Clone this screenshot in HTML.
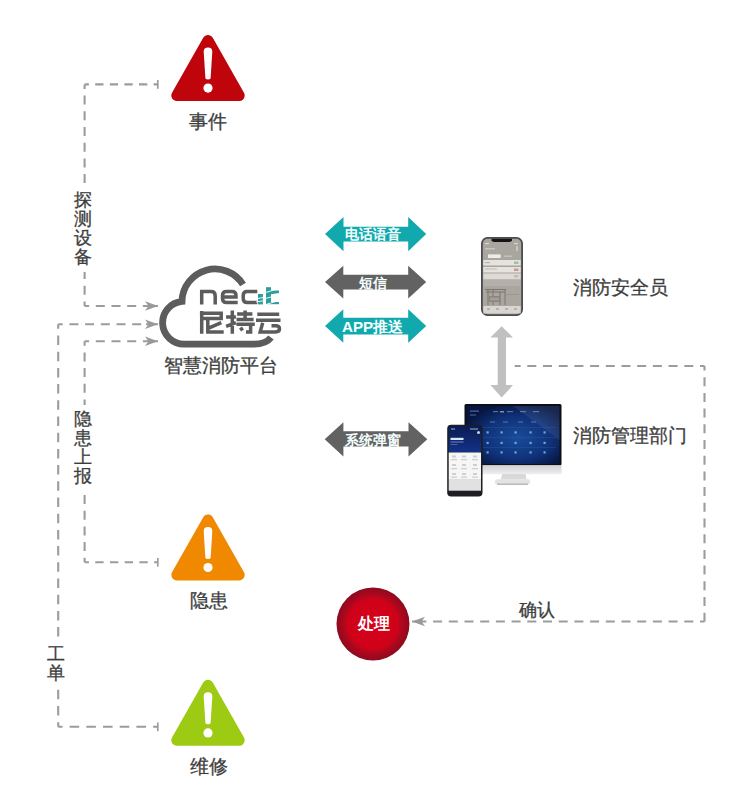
<!DOCTYPE html>
<html><head><meta charset="utf-8">
<style>
html,body{margin:0;padding:0;background:#fff;}
body{width:737px;height:795px;overflow:hidden;position:relative;font-family:"Liberation Sans",sans-serif;}
svg{position:absolute;left:0;top:0;}
.t{position:absolute;color:#3d3d3d;font-size:18.7px;line-height:19px;white-space:nowrap;font-weight:500;-webkit-text-stroke:0.3px #3d3d3d;}
.v{position:absolute;color:#3d3d3d;font-size:18px;line-height:18.9px;width:18px;text-align:center;white-space:normal;font-weight:500;-webkit-text-stroke:0.3px #3d3d3d;background:#fff;padding:5px 2px;margin:-5px -2px;}
.w{position:absolute;color:#f4ffff;font-size:14px;line-height:14px;white-space:nowrap;font-weight:bold;}
</style></head>
<body>
<svg width="737" height="795" viewBox="0 0 737 795">
  <!-- dashed connectors -->
  <defs>
    <marker id="ah" markerWidth="15" markerHeight="11" refX="13" refY="5" orient="auto" markerUnits="userSpaceOnUse">
      <path d="M0,0.2 L13,5 L0,9.8 L3.5,5 Z" fill="#999"/>
    </marker>
  </defs>
  <g fill="none" stroke="#9c9c9c" stroke-width="2.1" stroke-dasharray="9 6.7" stroke-dashoffset="4.5">
    <path d="M84.6,84.4 H157.8" stroke-dasharray="8.3 6.3" stroke-dashoffset="4"/>
    <path d="M84.6,84.4 V200"/>
    <path d="M84.6,306 V200"/>
    <path d="M84.6,306 H146"/>
    <path d="M58.2,324.2 H146"/>
    <path d="M58.2,324.2 V660" stroke-dasharray="9.5 6.7" stroke-dashoffset="4.9"/>
    <path d="M58.2,726.8 V660" stroke-dasharray="9.5 6.7" stroke-dashoffset="4.9"/>
    <path d="M58.2,726.8 H157.8" stroke-dasharray="9.6 7.1" stroke-dashoffset="5.3"/>
    <path d="M84.6,341.2 H146"/>
    <path d="M84.6,341.2 V450"/>
    <path d="M84.6,562.3 V450"/>
    <path d="M84.6,562.3 H157.8" stroke-dasharray="8.3 6.4" stroke-dashoffset="4"/>
    <path d="M704.5,366 H514.7"/>
    <path d="M704.5,366 V621.5"/>
    <path d="M704.5,621.5 H422"/>
  </g>
  <g stroke="#9c9c9c" stroke-width="2" fill="none">
    <path d="M146,306.0 H158" marker-end="url(#ah)"/>
    <path d="M146,324.2 H158" marker-end="url(#ah)"/>
    <path d="M146,341.2 H158" marker-end="url(#ah)"/>
    <path d="M422,621.5 H412" marker-end="url(#ah)"/>
  </g>
  <g stroke="#9c9c9c" stroke-width="1.7">
    <line x1="157.8" y1="80" x2="157.8" y2="88.8"/>
    <line x1="157.8" y1="558" x2="157.8" y2="566.6"/>
    <line x1="157.8" y1="722.5" x2="157.8" y2="731.1"/>
  </g>

  <!-- warning triangles -->
  <g transform="translate(208,40.5)">
    <path d="M0,0 L-31.2,55 L31.2,55 Z" fill="#bf050b" stroke="#bf050b" stroke-width="11" stroke-linejoin="round"/>
    <path d="M-4.3,11 Q-4.3,7 0,7 Q4.3,7 4.3,11 L2.6,38 Q0,40 -2.6,38 Z" fill="#fff"/>
    <circle cx="0" cy="47.6" r="4.6" fill="#fff"/>
  </g>
  <g transform="translate(208,519.9)">
    <path d="M0,0 L-31.2,55 L31.2,55 Z" fill="#f08800" stroke="#f08800" stroke-width="11" stroke-linejoin="round"/>
    <path d="M-4.3,11 Q-4.3,7 0,7 Q4.3,7 4.3,11 L2.6,38 Q0,40 -2.6,38 Z" fill="#fff"/>
    <circle cx="0" cy="47.6" r="4.6" fill="#fff"/>
  </g>
  <g transform="translate(208,685.3)">
    <path d="M0,0 L-31.2,55 L31.2,55 Z" fill="#9dcb14" stroke="#9dcb14" stroke-width="11" stroke-linejoin="round"/>
    <path d="M-4.3,11 Q-4.3,7 0,7 Q4.3,7 4.3,11 L2.6,38 Q0,40 -2.6,38 Z" fill="#fff"/>
    <circle cx="0" cy="47.6" r="4.6" fill="#fff"/>
  </g>
  <!-- cloud logo -->
  <g fill="none" stroke="#5c5c5c" stroke-width="6.8" stroke-linecap="butt">
    <path d="M243,284.5 A33,33 0 0 0 182.0,301.4 A21.4,21.4 0 0 0 184.5,344.1 H254 Q266,344.1 271,337.5"/>
  </g>

  <!-- double arrows -->
  <path d="M325,234 L343.5,217 V226.7 H408.2 V217 L426.2,234 L408.2,251.2 V241.4 H343.5 V251.2 Z" fill="#12a9ae"/>
  <path d="M325,282 L343.3,265.7 V274.7 H408.2 V265.7 L426.2,282 L408.2,298.6 V289.6 H343.3 V298.6 Z" fill="#626262"/>
  <path d="M325,326 L343.3,309.3 V317.7 H408.2 V309.3 L426.2,326 L408.2,342.8 V334.4 H343.3 V342.8 Z" fill="#12a9ae"/>
  <path d="M324.7,439.3 L343.4,422.2 V431.2 H408.5 V422.2 L427.3,439.3 L408.5,456.4 V446.6 H343.4 V456.4 Z" fill="#626262"/>

  <!-- vertical double arrow -->
  <path d="M501.7,326.2 L513,337.6 H506 V385.1 H513 L501.7,397.6 L490.4,385.1 H497.7 V337.6 H490.4 Z" fill="#c0c0c0"/>


  <!-- phone 1 -->
  <g>
    <rect x="481" y="237" width="42" height="79" rx="6.5" fill="#4c4c4c"/>
    <rect x="482.8" y="238.8" width="38.4" height="75.4" rx="5" fill="#a9a59f"/>
    <path d="M491.5,238.8 H512 V240.3 Q511.5,242 509.5,242 H494 Q492,242 491.5,240.3 Z" fill="#151515"/>
    <rect x="485" y="243" width="4" height="1.2" fill="#d8d5d0"/>
    <rect x="514" y="243" width="4" height="1.2" fill="#d8d5d0"/>
    <rect x="485" y="248" width="10" height="1.5" fill="#c8c4be"/>
    <rect x="516" y="246" width="2" height="5" fill="#c8c4be"/>
    <rect x="488" y="254.4" width="12.7" height="3.6" fill="#efece8"/>
    <rect x="504" y="255.5" width="8" height="1.5" fill="#c4c0ba"/>
    <rect x="483.3" y="260" width="37.4" height="5.5" fill="#e6e3df"/>
    <rect x="514" y="261.5" width="4.5" height="2.5" fill="#9cc3a4"/>
    <rect x="485" y="262" width="5" height="1.2" fill="#b8b4ae"/>
    <rect x="483.3" y="267" width="37.4" height="5.5" fill="#e6e3df"/>
    <rect x="514" y="268.5" width="4.5" height="2.5" fill="#c99aa2"/>
    <rect x="485" y="268.5" width="12" height="1" fill="#bdb9b3"/>
    <rect x="483.3" y="273.5" width="37.4" height="6" fill="#dedbd6"/>
    <rect x="514" y="275" width="4.5" height="2.5" fill="#c0bcb6"/>
    <rect x="483.3" y="279.5" width="37.4" height="26.5" fill="#b4b0a9"/>
    <rect x="483.3" y="286" width="37.4" height="20" fill="#aaa69f"/>
    <g stroke="#7b766f" stroke-width="1" fill="none">
      <path d="M485,289.5 H506 M486,292 H505 M488,289.5 V305 M493,289.5 V305 M500,292 V305 M505,289.5 V305"/>
    </g>
    <rect x="489" y="296" width="11" height="6" fill="#8a857d"/>
    <rect x="490" y="297.5" width="9" height="3" fill="#a39e96"/>
    <rect x="506" y="294" width="13" height="1" fill="#9c9790"/>
    <rect x="483.3" y="306" width="37.4" height="7.5" fill="#d9d6d2"/>
    <rect x="487" y="308" width="3" height="2" fill="#b6b2ac"/><rect x="496" y="308" width="3" height="2" fill="#b6b2ac"/><rect x="505" y="308" width="3" height="2" fill="#b6b2ac"/><rect x="514" y="308" width="3" height="2" fill="#b6b2ac"/>
  </g>
  <!-- monitor -->
  <defs>
    <radialGradient id="scr" cx="0.55" cy="0.55" r="0.6">
      <stop offset="0" stop-color="#1a4b98"/>
      <stop offset="0.6" stop-color="#10327a"/>
      <stop offset="1" stop-color="#071640"/>
    </radialGradient>
    <linearGradient id="chin" x1="0" y1="0" x2="0" y2="1">
      <stop offset="0" stop-color="#cfd0d2"/>
      <stop offset="1" stop-color="#eeeeef"/>
    </linearGradient>
    <linearGradient id="ph2" x1="0" y1="0" x2="0" y2="1">
      <stop offset="0" stop-color="#0a1b52"/>
      <stop offset="1" stop-color="#133287"/>
    </linearGradient>
  </defs>
  <g>
    <rect x="464.5" y="404" width="97" height="61.5" rx="1.5" fill="#0d0f16"/>
    <rect x="466.5" y="406" width="93" height="58" fill="url(#scr)"/>
    <path d="M513,406 H559.5 V440 Z" fill="#ffffff" opacity="0.08"/>
    <g fill="#7fd3f0" opacity="0.75">
      <rect x="486.5" y="431.3" width="2.2" height="2.2"/><rect x="500.5" y="431.3" width="2.2" height="2.2"/><rect x="514.5" y="431.3" width="2.2" height="2.2"/><rect x="529.5" y="431.3" width="2.2" height="2.2"/><rect x="543.5" y="431.3" width="2.2" height="2.2"/>
      <rect x="486.5" y="441.8" width="2.2" height="2.2"/><rect x="500.5" y="441.8" width="2.2" height="2.2"/><rect x="514.5" y="441.8" width="2.2" height="2.2"/><rect x="529.5" y="441.8" width="2.2" height="2.2"/><rect x="543.5" y="441.8" width="2.2" height="2.2"/>
      <rect x="486.5" y="451.3" width="2.2" height="2.2"/><rect x="500.5" y="451.3" width="2.2" height="2.2"/><rect x="514.5" y="451.3" width="2.2" height="2.2"/><rect x="529.5" y="451.3" width="2.2" height="2.2"/><rect x="543.5" y="451.3" width="2.2" height="2.2"/>
    </g>
    <g stroke="#2f64b0" stroke-width="0.5" opacity="0.6">
      <line x1="483" y1="427.5" x2="556" y2="427.5"/><line x1="483" y1="437.5" x2="556" y2="437.5"/><line x1="483" y1="447.5" x2="556" y2="447.5"/>
    </g>
    <g fill="#8fb0e0" opacity="0.55">
      <rect x="470" y="410.5" width="9" height="1.2"/><rect x="493" y="411" width="5" height="1.2"/><rect x="500" y="411" width="4" height="1.5" fill="#dfe8f8"/><rect x="507" y="411" width="6" height="1.2"/><rect x="520" y="411" width="6" height="1.2"/><rect x="533" y="411" width="6" height="1.2"/>
      <rect x="470" y="414.5" width="6" height="1"/>
      <rect x="490" y="421.5" width="5" height="1"/><rect x="503" y="421.5" width="5" height="1"/><rect x="518" y="421.5" width="5" height="1"/><rect x="531" y="421.5" width="5" height="1"/>
    </g>
    <rect x="464.5" y="465.2" width="97" height="9" fill="url(#chin)"/>
    <path d="M502,474 H525.5 L526.5,479.5 H501 Z" fill="#d9d9db"/>
    <rect x="495" y="479.3" width="35" height="5" rx="2" fill="#e3e3e5"/>
    <rect x="497" y="483.5" width="31" height="1.5" fill="#b9b9bb"/>
  </g>
  <!-- phone 2 -->
  <g>
    <rect x="447.2" y="424.7" width="35.3" height="71.7" rx="4" fill="#1d1d22"/>
    <rect x="448.7" y="426" width="32.3" height="26.5" rx="2.5" fill="url(#ph2)"/>
    <rect x="448.7" y="452.5" width="32.3" height="27.4" fill="#f6f6f6"/>
    <rect x="448.7" y="479.9" width="32.3" height="10.8" fill="#e1e1e1"/>
    <rect x="450.5" y="437.8" width="13" height="2.2" fill="#dfe5f3"/>
    <rect x="450.5" y="441.5" width="13" height="1" fill="#6f86bf"/><rect x="450.5" y="444" width="7" height="0.8" fill="#5b72b0"/><rect x="451" y="428.5" width="4" height="1" fill="#9fb0da"/><rect x="470" y="428.5" width="8" height="1" fill="#9fb0da"/>
    <circle cx="478.5" cy="432.5" r="1.5" fill="#c9d3ea"/>
    <g fill="#cfcfcf">
      <rect x="452" y="455.5" width="4" height="2"/><rect x="462" y="455.5" width="4" height="2"/><rect x="473" y="455.5" width="4" height="2"/>
      <rect x="451" y="459" width="6" height="1.3"/><rect x="461" y="459" width="6" height="1.3"/><rect x="472" y="459" width="6" height="1.3"/>
      <rect x="452" y="464" width="4" height="2"/><rect x="462" y="464" width="4" height="2"/><rect x="473" y="464" width="4" height="2"/>
      <rect x="451" y="468" width="6" height="1.3"/><rect x="461" y="468" width="6" height="1.3"/><rect x="472" y="468" width="6" height="1.3"/>
      <rect x="452" y="473" width="4" height="2"/><rect x="462" y="473" width="4" height="2"/><rect x="473" y="473" width="4" height="2"/>
      <rect x="451" y="476.5" width="6" height="1.3"/><rect x="461" y="476.5" width="6" height="1.3"/><rect x="472" y="476.5" width="6" height="1.3"/>
    </g>
  </g>

  <!-- logo text -->
  <g fill="none" stroke="#5c5c5c" stroke-width="3.5" stroke-linecap="butt" stroke-linejoin="miter">
    <path d="M201.7,304.4 V291.6 H211 Q215.2,291.6 215.2,295.8 V304.4"/>
    <path d="M237.7,302.6 H226.5 Q222.5,302.6 222.5,298.6 V295.6 Q222.5,291.6 226.5,291.6 H232 Q236,291.6 236,295.6 V297.1 H222.5"/>
    <path d="M257.3,291.6 H247.2 Q243.2,291.6 243.2,295.6 V298.6 Q243.2,302.6 247.2,302.6 H257.3"/>
    <path d="M201.7,311.1 V333.7 M199.9,313.2 H221.2 V318.5 H201.7 M221.3,322.7 L208.6,328.2 M207.8,320.3 V331.9 H223.7"/>
    <path d="M232.3,310.5 V333.7 M226.1,317 H235.9 M226.1,326.4 L235.9,322.7 M237.1,313.9 H252.4 M245.1,310.5 V319.4 M236.5,319.4 H253.6 M236.5,324.2 H254.8 M250.6,322.7 V331.9 H246 M240.5,327.5 L242.5,330.5"/>
    <path d="M257.3,314.2 H279.2 M256,320.3 H280.5 M262.7,322.8 L260.2,331.9 H275.5 Q279.5,331.9 279.5,328.8 Q279.5,325.7 275.5,325.7 H271.5"/>
  </g>
  <g fill="#2a9f9b">
    <rect x="258" y="294" width="4.9" height="10.4"/>
    <rect x="266" y="287.2" width="5" height="17"/>
    <path d="M271,290.6 L279,290.6 L279,293 L271,294.2 Z"/>
    <path d="M271,302 L279,302 L279,304.2 L271,304.2 Z"/>
  </g>
  <g stroke="#fff" stroke-width="0.9">
    <line x1="256" y1="299" x2="265" y2="297"/><line x1="256" y1="302" x2="265" y2="300.5"/>
    <line x1="264" y1="293" x2="281" y2="288"/><line x1="264" y1="299" x2="281" y2="294"/><line x1="264" y1="305" x2="281" y2="300"/>
  </g>

  <!-- processing circle -->
  <defs>
    <radialGradient id="cir" cx="0.5" cy="0.5" r="0.5">
      <stop offset="0" stop-color="#d6001a"/>
      <stop offset="0.68" stop-color="#cf0219"/>
      <stop offset="0.8" stop-color="#ae071d"/>
      <stop offset="1" stop-color="#8e0a1f"/>
    </radialGradient>
  </defs>
  <circle cx="373" cy="624" r="36.5" fill="url(#cir)"/>
</svg>

<div class="t" style="left:189px;top:112px;">事件</div>
<div class="v" style="left:74px;top:191px;">探测设备</div>
<div class="v" style="left:74px;top:410px;">隐患上报</div>
<div class="v" style="left:47px;top:645px;">工单</div>
<div class="t" style="left:190px;top:591px;">隐患</div>
<div class="t" style="left:190px;top:757px;">维修</div>
<div class="t" style="left:164px;top:356px;">智慧消防平台</div>
<div class="t" style="left:573px;top:278px;">消防安全员</div>
<div class="t" style="left:573px;top:426px;">消防管理部门</div>
<div class="t" style="left:519px;top:600.5px;font-size:18px;">确认</div>
<div class="w" style="left:345px;top:227px;">电话语音</div>
<div class="w" style="left:359px;top:276px;">短信</div>
<div class="w" style="left:342px;top:318.5px;font-size:15.2px;line-height:15px;">APP推送</div>
<div class="w" style="left:345px;top:433px;">系统弹窗</div>
<div class="w" style="left:358px;top:616px;color:#fff;font-size:15.5px;line-height:15.5px;">处理</div>
</body></html>
